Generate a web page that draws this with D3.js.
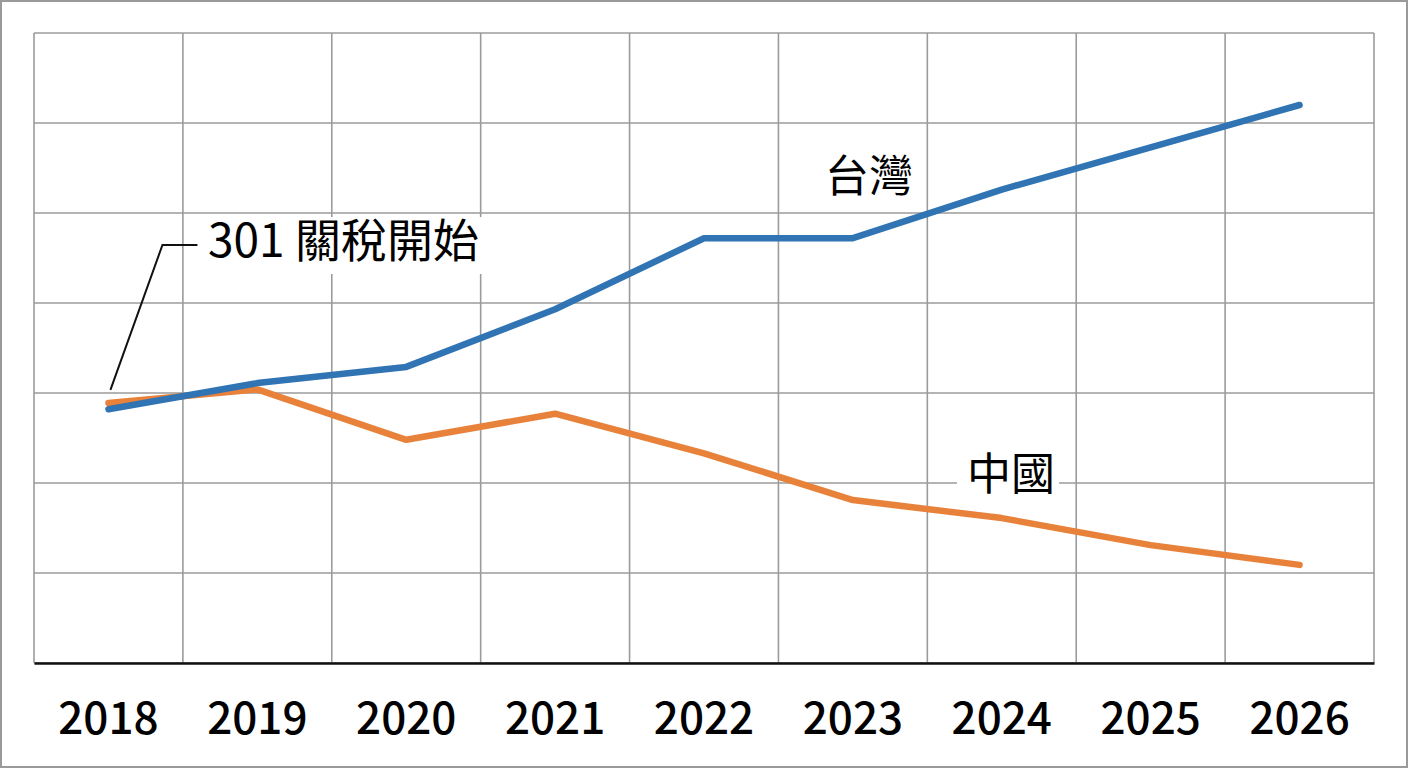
<!DOCTYPE html>
<html>
<head>
<meta charset="utf-8">
<script src="https://cdn.jsdelivr.net/npm/d3@7"></script>
<style>
  body { margin: 0; background: #fff; }
  svg { display: block; font-family: "Noto Sans CJK TC", "Noto Sans", sans-serif; }
</style>
</head>
<body>
<svg id="chart"></svg>
<script>
// data (no y labels, index units)
var years = ["2018", "2019", "2020", "2021", "2022", "2023", "2024", "2025", "2026"];
var taiwan = [28.2, 31.1, 32.9, 39.3, 47.2, 47.2, 52.6, 57.3, 62.0];
var china = [28.9, 30.4, 24.8, 27.7, 23.3, 18.1, 16.1, 13.1, 10.9];
var yTicks = [0, 10, 20, 30, 40, 50, 60, 70];

var width = 1408, height = 768;
var plotLeft = 34, plotRight = 1374, plotTop = 33, plotBottom = 663;

var svg = d3.select("#chart")
    .attr("width", width)
    .attr("height", height);

// outer frame
svg.append("rect")
    .attr("x", 1).attr("y", 1)
    .attr("width", width - 2).attr("height", height - 2)
    .attr("fill", "#fff")
    .attr("stroke", "#9a9a9a")
    .attr("stroke-width", 2);

var x = d3.scaleBand().domain(years).range([plotLeft, plotRight]).padding(0);
var y = d3.scaleLinear().domain([0, 70]).range([plotBottom, plotTop]);

var cx = function(d) { return x(d) + x.bandwidth() / 2; };

// grid
var grid = svg.append("g").attr("stroke", "#9b9b9b").attr("stroke-width", 1.6);
grid.selectAll("line.h")
    .data(yTicks)
    .enter()
    .append("line")
    .attr("class", "h")
    .attr("x1", plotLeft).attr("x2", plotRight)
    .attr("y1", function(d) { return y(d); })
    .attr("y2", function(d) { return y(d); });
grid.selectAll("line.v")
    .data(years.concat(["end"]))
    .enter()
    .append("line")
    .attr("class", "v")
    .attr("x1", function(d, i) { return plotLeft + i * x.bandwidth(); })
    .attr("x2", function(d, i) { return plotLeft + i * x.bandwidth(); })
    .attr("y1", plotTop).attr("y2", plotBottom);

// bottom axis
var xAxis = svg.append("g")
    .attr("transform", "translate(0," + plotBottom + ")")
    .call(d3.axisBottom(x).tickSize(0).tickPadding(40));
xAxis.select(".domain").attr("stroke", "#111").attr("stroke-width", 2.6);
xAxis.selectAll("text")
    .attr("font-family", "'Noto Sans CJK TC', sans-serif")
    .attr("font-size", 44)
    .attr("font-weight", 500)
    .attr("fill", "#000");

// label boxes that cover grid lines
var labels = svg.append("g");

var line = d3.line()
    .x(function(d, i) { return cx(years[i]); })
    .y(function(d) { return y(d); });

svg.append("path")
    .datum(china)
    .attr("d", line)
    .attr("fill", "none")
    .attr("stroke", "#e8823a")
    .attr("stroke-width", 6.5)
    .attr("stroke-linecap", "round")
    .attr("stroke-linejoin", "round");

svg.append("path")
    .datum(taiwan)
    .attr("d", line)
    .attr("fill", "none")
    .attr("stroke", "#3074b4")
    .attr("stroke-width", 6.5)
    .attr("stroke-linecap", "round")
    .attr("stroke-linejoin", "round");

function addLabel(txt, tx, ty, size, bg) {
  var t = labels.append("text")
      .attr("x", tx).attr("y", ty)
      .attr("font-size", size)
      .attr("font-weight", 400)
      .attr("fill", "#000")
      .attr("dominant-baseline", "middle")
      .text(txt);
  if (bg) {
    var b = t.node().getBBox();
    // keep the box inside the cell so neighbouring grid lines stay visible
    labels.insert("rect", "text")
        .attr("x", b.x - 10).attr("y", ty - 28)
        .attr("width", b.width + 14).attr("height", 57)
        .attr("fill", "#fff");
  }
}

// leader for the tariff note, starting just above the 2018 point
var ax = cx(years[0]) + 2, ay = y(china[0]) - 13;
svg.append("path")
    .attr("d", "M" + ax + "," + ay + "L" + (ax + 52) + "," + 245 + "H" + (ax + 87))
    .attr("fill", "none")
    .attr("stroke", "#111")
    .attr("stroke-width", 2);

addLabel("301 關稅開始", 208, 245, 46, true);
addLabel("台灣", 825, 180, 44, false);
addLabel("中國", 967, 478, 44, true);
</script>
</body>
</html>
